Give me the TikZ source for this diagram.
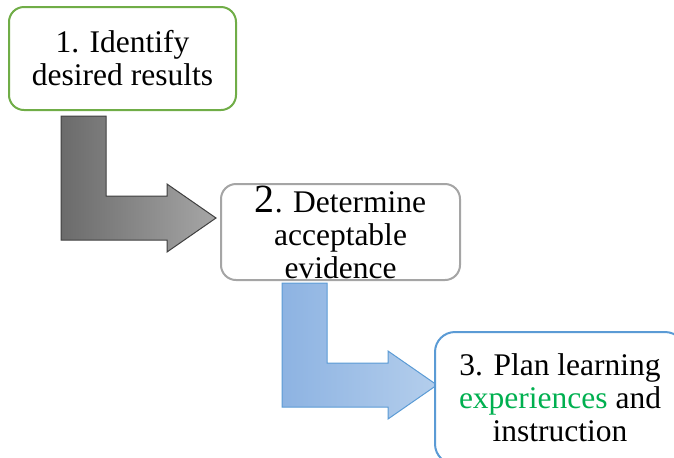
\documentclass[tikz,border=0pt]{standalone}
\usepackage{fontspec}
\setmainfont{Liberation Serif}
\definecolor{boxgreen}{HTML}{70AD47}
\definecolor{boxgray}{HTML}{A5A5A5}
\definecolor{boxblue}{HTML}{5B9BD5}
\definecolor{wordgreen}{HTML}{00B050}
\definecolor{graydark}{HTML}{6B6B6B}
\definecolor{graylight}{HTML}{A6A6A6}
\definecolor{bluedark}{HTML}{8DB3E2}
\definecolor{bluelight}{HTML}{B4CEEC}
\begin{document}
\begin{tikzpicture}[x=0.5pt,y=-0.5pt,
  stepbox/.style={draw, line width=1pt, rounded corners=7.5pt, fill=white,
    align=center, inner sep=0pt, font=\fontsize{15.75}{16.5}\selectfont}]
\def\bentarrow{(0,0) -- (45,0) -- (45,80) -- (106,80) -- (106,68) -- (155,102)
  -- (106,136) -- (106,124) -- (0,124) -- cycle}

\useasboundingbox (0,0) rectangle (674,457);
\clip (0,0) rectangle (674,457);

% the two bent arrows
\begin{scope}[shift={(61,116)}]
\shadedraw[left color=graydark, right color=graylight, draw=black!75, line width=0.5pt] \bentarrow;
\end{scope}
\begin{scope}[shift={(282,283)}]
\shadedraw[left color=bluedark, right color=bluelight, draw=boxblue, line width=0.5pt] \bentarrow;
\end{scope}

% the three steps
\node[stepbox, draw=boxgreen, minimum width=113.5pt, minimum height=51.5pt] (identify) at (122.5,58.5)
  {1. Identify\\desired results};
\node[stepbox, draw=boxgray, minimum width=119.5pt, minimum height=48pt] (determine) at (340.5,232)
  {{\fontsize{20}{16.5}\selectfont 2}. Determine\\acceptable\\evidence};
\node[stepbox, draw=boxblue, rounded corners=10pt, minimum width=125pt, minimum height=66pt] (plan) at (560,398)
  {3. Plan learning\\\textcolor{wordgreen}{experiences} and\\instruction};
\end{tikzpicture}
\end{document}
